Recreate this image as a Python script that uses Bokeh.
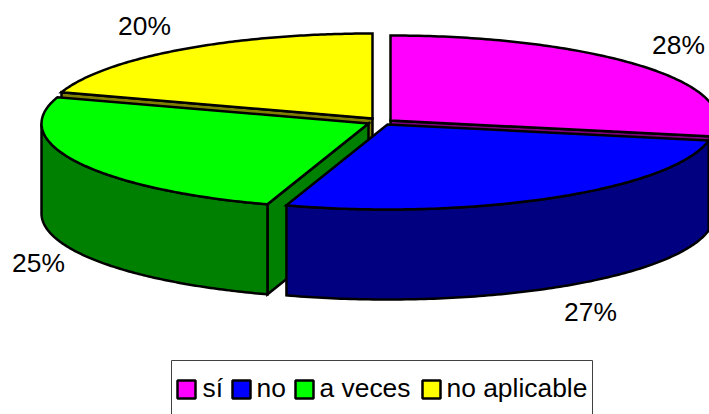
import numpy as np
from bokeh.plotting import figure
from bokeh.embed import file_html
from bokeh.resources import INLINE
from bokeh.core.properties import value

categories = ["sí", "no", "a veces", "no aplicable"]
shares = [28, 27, 25, 20]
pct_labels = ["28%", "27%", "25%", "20%"]

top_colors = ["#FF00FF", "#0000FF", "#00FF00", "#FFFF00"]
side_colors = ["#800080", "#000080", "#008000", "#808000"]

# page geometry, in reference pixels
apex_x = [390, 387, 368, 372]
apex_y = [120, 124, 123, 118]
label_x = [678, 590, 38, 144]
label_y = [44, 311, 262, 25]
RX, RY, DEPTH = 327, 85, 90
swatch_x = [177, 232, 295, 422]
legend_text_x = [202, 256, 319, 446]
FONT = value("Liberation Sans")

p = figure(width=709, height=414, x_range=(0, 709), y_range=(414, 0),
           output_backend="svg", toolbar_location=None, min_border=0,
           x_axis_type="linear", y_axis_type="linear")
p.axis.visible = False
p.grid.visible = False
p.outline_line_color = None

total = sum(shares)
edges = np.radians(np.cumsum([0] + shares) / total * 360.0)


def rim(i, a0, a1, dy=0.0):
    t = np.linspace(a0, a1, 120)
    return apex_x[i] + RX * np.sin(t), apex_y[i] - RY * np.cos(t) + dy


def poly(xs, ys, color):
    p.patch(list(xs), list(ys), fill_color=color, line_color="black",
            line_width=2.5, line_join="miter")


def cut_wall(i, a):
    x1 = apex_x[i] + RX * np.sin(a)
    y1 = apex_y[i] - RY * np.cos(a)
    poly([apex_x[i], x1, x1, apex_x[i]],
         [apex_y[i], y1, y1 + DEPTH, apex_y[i] + DEPTH], side_colors[i])


def outer_wall(i, a0, a1):
    xt, yt = rim(i, a0, a1)
    xb, yb = rim(i, a0, a1, DEPTH)
    poly(np.r_[xt, xb[::-1]], np.r_[yt, yb[::-1]], side_colors[i])


def top(i):
    xs, ys = rim(i, edges[i], edges[i + 1])
    poly(np.r_[apex_x[i], xs], np.r_[apex_y[i], ys], top_colors[i])


# back slices first
cut_wall(3, edges[3])
top(3)
cut_wall(0, edges[1])
top(0)
# front-left slice
cut_wall(2, edges[2])
outer_wall(2, edges[2], np.radians(270))
top(2)
# front-right slice
outer_wall(1, edges[1], edges[2])
top(1)

p.text(label_x, label_y, text=pct_labels, text_font=FONT, text_font_size="26.4px",
       text_color="black", text_align="center", text_baseline="middle")

# legend
p.multi_line([[171, 171], [171, 592], [592, 592]], [[420, 360], [360, 360], [360, 420]],
             line_color="#404040", line_width=1)
p.quad(left=swatch_x, right=[x + 18 for x in swatch_x],
       top=[380] * 4, bottom=[398] * 4,
       fill_color=top_colors, line_color="black", line_width=2.5)
p.text(legend_text_x, [387] * 4, text=categories, text_font=FONT, text_font_size="26.4px",
       text_color="black", text_align="left", text_baseline="middle")

open("out.html", "w").write(file_html(p, INLINE))
